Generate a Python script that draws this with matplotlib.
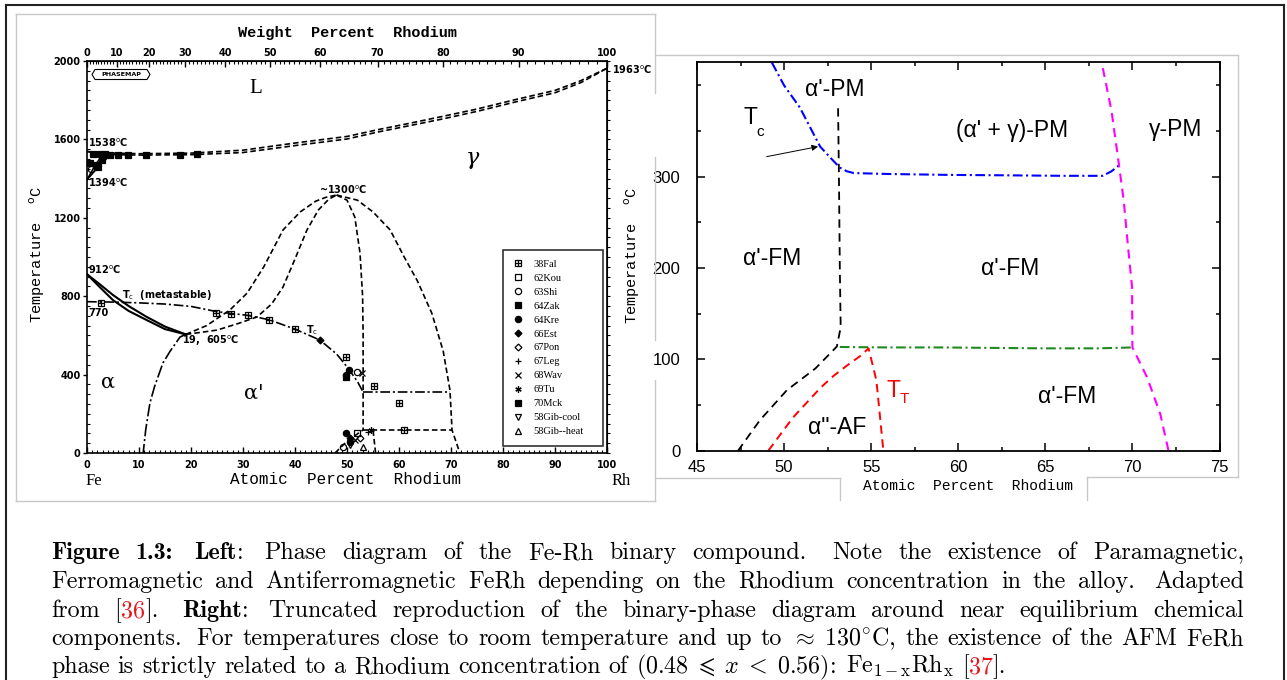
import numpy as np
import matplotlib
matplotlib.use("Agg")
import matplotlib.pyplot as plt
from matplotlib.lines import Line2D
from matplotlib.patches import Polygon
from matplotlib.legend_handler import HandlerTuple
from matplotlib.ticker import MultipleLocator
from matplotlib.font_manager import FontProperties

plt.rcParams['lines.scale_dashes'] = False

W, H = 1287, 680

# ---------------- Fe-Rh equilibrium diagram (at.% Rh, deg C) ----------------
liq_x = [0, 5, 10, 20, 30, 41, 50, 56, 62, 68.5, 75, 82.7, 90, 95, 100]
liq_t = [1538, 1530, 1527, 1530, 1545, 1585, 1615, 1650, 1682, 1718, 1755, 1805, 1850, 1900, 1963]
sol_t = [1538, 1522, 1520, 1522, 1533, 1572, 1602, 1638, 1670, 1705, 1743, 1793, 1838, 1890, 1963]

delta_a_x = [0, 1.5, 3.0]
delta_a_t = [1394, 1465, 1522]
delta_b_x = [0, 2.5, 4.5]
delta_b_t = [1394, 1470, 1520]

ga_up_x = [0, 2.5, 5, 8, 11.5, 15, 19]
ga_up_t = [912, 860, 806, 750, 694, 645, 605]
ga_lo_x = [0, 2.5, 5, 8, 11.5, 15, 19]
ga_lo_t = [912, 845, 780, 725, 678, 632, 605]

mart_x = [19, 17.9, 16, 14.6, 13, 12.1, 11.3, 10.8]
mart_t = [605, 592, 520, 459, 340, 255, 120, 0]

tc_x = [0, 5, 10, 15, 20, 24.8, 27.7, 31, 35, 40, 44.8, 48, 50, 52, 53.1]
tc_t = [772, 770, 766, 760, 748, 722, 712, 702, 680, 632, 576, 505, 440, 365, 311]

dome_a_x = [19, 23, 27.5, 30.8, 34, 37.7, 41, 44, 46, 48]
dome_a_t = [605, 650, 730, 816, 950, 1138, 1230, 1285, 1305, 1316]
dome_b_x = [19, 25, 29, 32.7, 35.5, 37.7, 40, 42.3, 44.5, 46.5, 48]
dome_b_t = [605, 627, 660, 694, 760, 847, 990, 1138, 1240, 1295, 1316]
dome_in_x = [48, 50, 51.5, 52.5, 53, 53.1, 53.1, 53.1]
dome_in_t = [1316, 1290, 1204, 1020, 800, 600, 310, 118]
dome_out_x = [48, 52, 55, 58.3, 61, 63.5, 66.3, 68.5, 69.8, 70.2, 71.7]
dome_out_t = [1316, 1290, 1230, 1138, 1000, 880, 714, 520, 321, 117, 0]

ord_tc_x = [53.1, 69.8]
ord_tc_t = [310, 310]
af_top_x = [53.1, 70.2]
af_top_t = [118, 118]
af_left_x = [47.7, 50, 53.1]
af_left_t = [0, 60, 118]
af_right_x = [55.5, 55.0]
af_right_t = [0, 118]

# measured points by source
fal_x = [2.7, 24.8, 27.7, 31.0, 35.0, 40.0, 49.8, 55.1, 60.0, 61.0]
fal_t = [767, 716, 708, 704, 679, 631, 491, 342, 253, 117]
zak_x = [1.2, 2.5, 3.5, 4.4, 6.0, 7.9, 11.3, 17.9, 21.2, 0.6, 1.9, 2.2, 2.8]
zak_t = [1528, 1525, 1523, 1522, 1522, 1522, 1522, 1522, 1528, 1478, 1469, 1461, 1495]
kou_x = [51.9]
kou_t = [100]
shi_x = [51.9, 49.3, 0.8]
shi_t = [415, 32, 1450]
kre_x = [49.9, 50.3, 49.9, 50.6]
kre_t = [398, 425, 100, 58]
est_x = [44.8, 50.6]
est_t = [576, 77]
pon_x = [52.5]
pon_t = [77]
leg_x = [54.0]
leg_t = [107]
wav_x = [52.8, 51.5]
wav_t = [407, 66]
tu_x = [54.7]
tu_t = [117]
mck_x = [49.9]
mck_t = [389]
gibc_x = [50.6]
gibc_t = [40]
gibh_x = [53.1]
gibh_t = [32]
legend_labels = ['38Fal', '62Kou', '63Shi', '64Zak', '64Kre', '66Est', '67Pon',
                 '67Leg', '68Wav', '69Tu', '70Mck', '58Gib-cool', '58Gib--heat']

wt_ticks = list(range(0, 101, 10))
at_ticks = list(range(0, 101, 10))
t_ticks_left = [0, 400, 800, 1200, 1600, 2000]

# ---------------- near-equiatomic magnetic diagram ----------------
r_tc_x = [49.3, 50.0, 50.9, 52.07, 52.7, 53.2, 53.6, 54.0, 56.0, 59.5, 63.0, 66.0, 68.3, 68.8, 69.2]
r_tc_t = [425, 400, 376, 333, 320, 310, 306, 304, 303, 302, 301.5, 301, 301, 306, 312]
r_fm_x = [53.1, 53.15, 53.2, 53.25, 53.03, 51.8, 50.15, 48.6, 47.36]
r_fm_t = [375, 300, 200, 135, 114, 90, 66, 33, 0]
r_tt_x = [53.2, 56, 59, 62, 65, 68, 70.0]
r_tt_t = [113.5, 113, 113, 112.5, 112, 112, 113]
r_af_x = [49.1, 50.5, 52.1, 52.85, 53.6, 54.4, 54.85, 55.3, 55.7]
r_af_t = [0, 36, 69, 82, 93, 104, 112, 77, 0]
r_g_x = [68.3, 68.8, 69.2, 69.5, 69.77, 69.98, 70.0, 70.85, 71.6, 72.07]
r_g_t = [419, 372, 317, 274, 219, 179, 113, 80, 40, 0]
r_xticks = [45, 50, 55, 60, 65, 70, 75]
r_yticks = [0, 100, 200, 300]

M_FE, M_RH = 55.845, 102.906


def at_to_wt(a):
    a = np.asarray(a, float)
    return 100 * a * M_RH / (a * M_RH + (100 - a) * M_FE)


def wt_to_at(w):
    w = np.asarray(w, float)
    return 100 * (w / M_RH) / (w / M_RH + (100 - w) / M_FE)


def fx(px):
    return px / W


def fy(py):
    return 1 - py / H


fig = plt.figure(figsize=(W / 100, H / 100), dpi=100)


def fline(xs, ys, **kw):
    fig.add_artist(Line2D([fx(v) for v in xs], [fy(v) for v in ys],
                          transform=fig.transFigure, **kw))


# page frame and panel outlines
fline([6, 6], [4.5, 680], color='#222222', lw=1.5)
fline([6, 1284], [4.5, 4.5], color='#222222', lw=1.5)
fline([1284, 1284], [4.5, 680], color='#222222', lw=1.5)
grey = dict(color='#c8c8c8', lw=1.0)
fline([16, 655], [14, 14], **grey)
fline([16, 16], [14, 500.5], **grey)
fline([16, 655], [500.5, 500.5], **grey)
fline([655, 655], [14, 93], **grey)
fline([655, 655], [157, 340], **grey)
fline([655, 655], [380, 500.5], **grey)
fline([655, 1237.5], [55, 55], **grey)
fline([1237.5, 1237.5], [55, 477], **grey)
fline([1087, 1237.5], [477, 477], **grey)
fline([1087, 1087], [477, 500], **grey)
fline([655, 840], [478, 478], **grey)
fline([840, 840], [478, 500], **grey)

# ======================= left panel =======================
axL = fig.add_axes([fx(87), fy(453), (607 - 87) / W, (453 - 61) / H])
axL.set_xlim(0, 100)
axL.set_ylim(0, 2000)
for s in axL.spines.values():
    s.set_linewidth(1.2)

blk = dict(color='black', lw=1.2)
dash = (0, (4, 2.2))
dashdot = (0, (7, 2, 1.5, 2))
axL.plot(liq_x, liq_t, ls=dash, **blk)
axL.plot(liq_x, sol_t, ls=dash, **blk)
axL.plot(delta_a_x, delta_a_t, **blk)
axL.plot(delta_b_x, delta_b_t, **blk)
axL.plot(ga_up_x, ga_up_t, lw=1.5, color='black')
axL.plot(ga_lo_x, ga_lo_t, lw=1.5, color='black')
axL.plot(mart_x, mart_t, ls=(0, (9, 2, 1.5, 2)), **blk)
axL.plot(tc_x, tc_t, ls=dashdot, **blk)
axL.plot(dome_a_x, dome_a_t, ls=dash, **blk)
axL.plot(dome_b_x, dome_b_t, ls=dash, **blk)
axL.plot(dome_in_x, dome_in_t, ls=dash, **blk)
axL.plot(dome_out_x, dome_out_t, ls=dash, **blk)
axL.plot(ord_tc_x, ord_tc_t, ls=dashdot, **blk)
axL.plot(af_top_x, af_top_t, ls=dash, **blk)
axL.plot(af_left_x, af_left_t, ls=dash, **blk)
axL.plot(af_right_x, af_right_t, ls=dash, **blk)

mk = dict(ls='none', color='black', ms=4.5, mew=0.9)
h_fal = (Line2D([], [], marker='s', mfc='none', **mk), Line2D([], [], marker='+', **mk))
axL.plot(fal_x, fal_t, marker='s', mfc='none', **mk)
axL.plot(fal_x, fal_t, marker='+', **mk)
series = [
    (kou_x, kou_t, dict(marker='s', mfc='none')),
    (shi_x, shi_t, dict(marker='o', mfc='none')),
    (zak_x, zak_t, dict(marker='s')),
    (kre_x, kre_t, dict(marker='o')),
    (est_x, est_t, dict(marker='D', ms=3.5)),
    (pon_x, pon_t, dict(marker='D', mfc='none', ms=3.5)),
    (leg_x, leg_t, dict(marker='+')),
    (wav_x, wav_t, dict(marker='x', ms=3.8)),
    (tu_x, tu_t, dict(marker=(6, 2, 0))),
    (mck_x, mck_t, dict(marker='s')),
    (gibc_x, gibc_t, dict(marker='v', mfc='none')),
    (gibh_x, gibh_t, dict(marker='^', mfc='none')),
]
handles = [h_fal]
for xs, ts, st in series:
    kw = dict(mk)
    kw.update(st)
    axL.plot(xs, ts, **kw)
    handles.append(Line2D([], [], **kw))

leg = axL.legend(handles, legend_labels, loc='upper left',
                 bbox_to_anchor=(0.8, 0.02, 0.192, 0.498), mode='expand',
                 borderaxespad=0, borderpad=0.9, labelspacing=0.45,
                 handlelength=1.0, handletextpad=1.0, fancybox=False,
                 prop=dict(family='Liberation Serif', size=7.5),
                 handler_map={tuple: HandlerTuple(ndivide=1)})
leg.get_frame().set_edgecolor('black')
leg.get_frame().set_linewidth(1.2)

# ticks
axL.set_xticks(at_ticks)
axL.xaxis.set_minor_locator(MultipleLocator(1))
axL.set_yticks(t_ticks_left)
axL.yaxis.set_minor_locator(MultipleLocator(50))
tfont = dict(family='DejaVu Sans', weight='bold', size=7)
axL.tick_params(axis='x', which='major', direction='in', length=4, width=1, pad=5)
axL.tick_params(axis='x', which='minor', direction='in', length=2.2, width=0.8)
axL.tick_params(axis='y', which='major', direction='out', length=3, width=1, pad=1.5)
axL.tick_params(axis='y', which='minor', direction='in', length=2.2, width=0.8)
for lab in axL.get_xticklabels() + axL.get_yticklabels():
    lab.set_fontproperties(FontProperties(**tfont))

sec = axL.secondary_xaxis('top', functions=(at_to_wt, wt_to_at))
sec.set_xticks(wt_ticks)
sec.xaxis.set_minor_locator(MultipleLocator(1))
sec.tick_params(which='major', direction='in', length=4, width=1, pad=2)
sec.tick_params(which='minor', direction='in', length=2.2, width=0.8)
for lab in sec.get_xticklabels():
    lab.set_fontproperties(FontProperties(**tfont))

secy = axL.secondary_yaxis('right')
secy.set_yticks([])
secy.yaxis.set_minor_locator(MultipleLocator(50))
secy.tick_params(which='minor', direction='out', length=2.2, width=0.8)

# annotations
small = dict(family='DejaVu Sans', weight='bold', fontsize=7)
axL.text(0.2, 1582, r'1538$^{\rm o}$C', va='center', ha='left', **small)
axL.text(0.2, 1378, r'1394$^{\rm o}$C', va='center', ha='left', **small)
axL.text(0.2, 934, r'912$^{\rm o}$C', va='center', ha='left', **small)
axL.text(0.2, 714, '770', va='center', ha='left', **small)
axL.text(6.7, 806, r'T$_{\rm c}$  (metastable)', va='center', ha='left', **small)
axL.text(18.3, 571, r'19,  605$^{\rm o}$C', va='center', ha='left', **small)
axL.text(49.2, 1342, r'~1300$^{\rm o}$C', va='center', ha='center', **small)
axL.text(43.2, 627, r'T$_{\rm c}$', va='center', ha='center', **small)
axL.text(101, 1954, r'1963$^{\rm o}$C', va='center', ha='left', clip_on=False, **small)
axL.text(32.5, 1862, 'L', fontsize=15, family='Liberation Serif', ha='center', va='center')
axL.text(74.2, 1505, 'γ', fontsize=16, family='DejaVu Serif', style='italic', ha='center', va='center')
axL.text(4.0, 362, 'α', fontsize=15, family='DejaVu Serif', ha='center', va='center')
axL.text(32.0, 306, "α'", fontsize=15, family='DejaVu Serif', ha='center', va='center')

fig.add_artist(Polygon([(fx(92), fy(74.5)), (fx(95), fy(69.5)), (fx(147), fy(69.5)),
                        (fx(150), fy(74.5)), (fx(147), fy(79.5)), (fx(95), fy(79.5))],
                       closed=True, fill=False, ec='black', lw=0.8,
                       transform=fig.transFigure))
fig.text(fx(121), fy(74.5), 'PHASEMAP', fontsize=4.6, weight='bold',
         family='DejaVu Sans', ha='center', va='center')

fig.text(fx(347), fy(33), 'Weight  Percent  Rhodium', family='Liberation Mono',
         weight='bold', fontsize=11, ha='center', va='center')
fig.text(fx(346), fy(480), 'Atomic  Percent  Rhodium', family='Liberation Mono',
         fontsize=11.5, ha='center', va='center')
fig.text(fx(37), fy(255), r'Temperature  $^{\rm o}$C', family='Liberation Mono',
         fontsize=11, rotation=90, ha='center', va='center')
fig.text(fx(94), fy(481), 'Fe', family='Liberation Serif', fontsize=12,
         ha='center', va='center')
fig.text(fx(621), fy(481), 'Rh', family='Liberation Serif', fontsize=12,
         ha='center', va='center')

# ======================= right panel =======================
axR = fig.add_axes([fx(697), fy(450.6), (1219.5 - 697) / W, (450.6 - 61.7) / H])
axR.set_xlim(45, 75)
axR.set_ylim(0, 426)
for s in axR.spines.values():
    s.set_linewidth(1.3)
axR.set_xticks(r_xticks)
axR.set_yticks(r_yticks)
axR.xaxis.set_minor_locator(MultipleLocator(2.5))
axR.yaxis.set_minor_locator(MultipleLocator(50))
axR.tick_params(which='both', direction='in', top=True, right=True, width=1.1)
axR.tick_params(which='major', length=5.5)
axR.tick_params(which='minor', length=3.2)
axR.tick_params(axis='x', pad=7)
axR.tick_params(axis='y', pad=12)
for lab in axR.get_xticklabels() + axR.get_yticklabels():
    lab.set_fontfamily('Liberation Sans')
    lab.set_fontsize(12)

axR.plot(r_tc_x, r_tc_t, color='#0000ff', lw=1.5, ls=(0, (7, 2.5, 1.5, 2.5)))
axR.plot(r_fm_x, r_fm_t, color='black', lw=1.3, ls=(0, (6, 4)))
axR.plot(r_tt_x, r_tt_t, color='#1f8a1f', lw=1.5, ls=(0, (7, 2.5, 1.5, 2.5)))
axR.plot(r_af_x, r_af_t, color='#ff0000', lw=1.4, ls=(0, (6, 4)))
axR.plot(r_g_x, r_g_t, color='#ff00ff', lw=1.5, ls=(0, (6.5, 4.5)))

axR.annotate('', xy=(51.95, 333), xytext=(49.0, 322),
             arrowprops=dict(arrowstyle='-|>', lw=0.7, color='black',
                             mutation_scale=9, shrinkA=0, shrinkB=0))

lab_kw = dict(family='Liberation Sans', fontsize=16.5, ha='center', va='center')
axR.text(52.93, 396, "α'-PM", **lab_kw)
axR.text(63.1, 351, "(α' + γ)-PM", **lab_kw)
axR.text(72.47, 352, "γ-PM", **lab_kw)
axR.text(49.31, 210, "α'-FM", **lab_kw)
axR.text(62.99, 200, "α'-FM", **lab_kw)
axR.text(66.26, 59, "α'-FM", **lab_kw)
axR.text(53.05, 25, 'α"-AF', **lab_kw)
axR.text(48.05, 365, 'T', **lab_kw)
axR.text(48.6, 349, 'c', family='Liberation Sans', fontsize=11, ha='center', va='center')
axR.text(56.3, 66, 'T', color='#ff0000', **lab_kw)
axR.text(56.9, 56, 'T', color='#ff0000', family='Liberation Sans', fontsize=11,
         ha='center', va='center')

fig.text(fx(632), fy(256), r'Temperature  $^{\rm o}$C', family='Liberation Mono',
         fontsize=11, rotation=90, ha='center', va='center')
fig.text(fx(968), fy(486), 'Atomic  Percent  Rhodium', family='Liberation Mono',
         fontsize=10.5, ha='center', va='center')

# ======================= caption =======================
# ** toggles bold, § toggles red (citation numbers); lines are justified
CAP_FS = 17.3
cap_lines = [
    r"**Figure 1.3:** **Left**: Phase diagram of the Fe-Rh binary compound. Note the existence of Paramagnetic,",
    r"Ferromagnetic and Antiferromagnetic FeRh depending on the Rhodium concentration in the alloy. Adapted",
    r"from [§36§]. **Right**: Truncated reproduction of the binary-phase diagram around near equilibrium chemical",
    r"components. For temperatures close to room temperature and up to $\approx$ 130$^{\circ}$C, the existence of the AFM FeRh",
    r"phase is strictly related to a Rhodium concentration of $(0.48\;\leqslant\;x\;<\;0.56)$: Fe$_{\mathrm{1-x}}$Rh$_{\mathrm{x}}$ [§37§].",
]
cap_base = [559, 588, 617, 645, 673]
CAP_L, CAP_R = 51, 1244


def parse_words(line):
    words = []
    style = 'r'
    for token in line.split(' '):
        pieces = []
        buf = ''
        i = 0
        while i < len(token):
            if token.startswith('**', i):
                if buf:
                    pieces.append((buf, style))
                    buf = ''
                style = 'r' if style == 'b' else 'b'
                i += 2
                continue
            ch = token[i]
            if ch == '§':
                if buf:
                    pieces.append((buf, style))
                    buf = ''
                style = 'r' if style == 'red' else 'red'
            else:
                buf += ch
            i += 1
        if buf:
            pieces.append((buf, style))
        words.append(pieces)
    return words


styles = {
    'r': dict(family='cmr10', color='black'),
    'b': dict(family='cmb10', color='black'),
    'red': dict(family='cmr10', color='#e8141a'),
}
renderer = fig.canvas.get_renderer()
space_px = 0.333 * CAP_FS * 100 / 72

for li, (line, yb) in enumerate(zip(cap_lines, cap_base)):
    words = parse_words(line)
    placed = []
    widths = []
    for pieces in words:
        arts = []
        wsum = 0.0
        for txt, st in pieces:
            t = fig.text(0, fy(yb), txt, fontsize=CAP_FS, va='baseline', ha='left',
                         math_fontfamily='cm', **styles[st])
            w = t.get_window_extent(renderer).width
            arts.append((t, wsum))
            wsum += w
        placed.append(arts)
        widths.append(wsum)
    weights = []
    for pieces in words[:-1]:
        last = pieces[-1][0]
        if last.endswith('.'):
            weights.append(1.6)
        elif last.endswith(':'):
            weights.append(1.35)
        elif last.endswith(','):
            weights.append(1.1)
        else:
            weights.append(1.0)
    if li < len(cap_lines) - 1:
        free = (CAP_R - CAP_L) - sum(widths)
        gaps = [free * w / sum(weights) for w in weights]
    else:
        gaps = [space_px * w for w in weights]
    x = CAP_L
    for k, arts in enumerate(placed):
        for t, off in arts:
            t.set_x(fx(x + off))
        x += widths[k]
        if k < len(gaps):
            x += gaps[k]

fig.savefig('out.png', dpi=100)
